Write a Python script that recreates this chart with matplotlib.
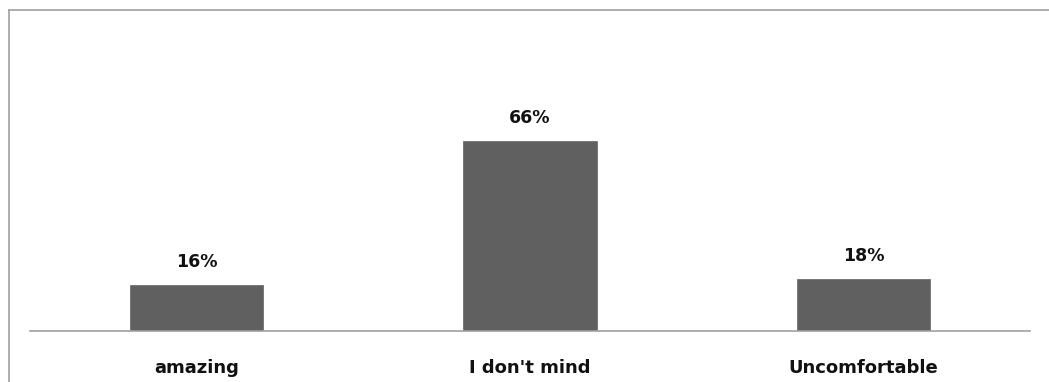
import matplotlib.pyplot as plt
from matplotlib.lines import Line2D

# dados
categories = ["amazing", "I don't mind", "Uncomfortable"]
values = [16, 66, 18]
labels = ["16%", "66%", "18%"]

W, H = 1049, 382
fig = plt.figure(figsize=(W / 100, H / 100), dpi=100)
ax = fig.add_axes([30 / W, 51 / H, 1000 / W, 288 / H])

x = range(len(categories))
bars = ax.bar(x, values, width=0.4, color='#606060', edgecolor='#707070', linewidth=0.6)

ax.set_xlim(-0.5, 2.5)
ax.set_ylim(0, 100)
ax.set_xticks(list(x))
ax.set_xticklabels(categories, fontsize=13, fontweight='bold', color='#111111')
ax.tick_params(axis='x', length=0, pad=20)
ax.set_yticks([])

for s in ['top', 'left', 'right']:
    ax.spines[s].set_visible(False)
ax.spines['bottom'].set_color('#a0a0a0')
ax.spines['bottom'].set_linewidth(1.2)

for b, lab in zip(bars, labels):
    ax.annotate(lab, (b.get_x() + b.get_width() / 2, b.get_height()),
                xytext=(0, 10), textcoords='offset points',
                ha='center', va='bottom', fontsize=12.5, fontweight='bold', color='#111111')

# moldura do grafico
fig.add_artist(Line2D([8.5 / W, 8.5 / W], [0, 1 - 10 / H], transform=fig.transFigure,
                      color='#a0a0a0', linewidth=1.2))
fig.add_artist(Line2D([8.5 / W, 1], [1 - 10 / H, 1 - 10 / H], transform=fig.transFigure,
                      color='#a0a0a0', linewidth=1.2))

plt.savefig("out.png", dpi=100)
